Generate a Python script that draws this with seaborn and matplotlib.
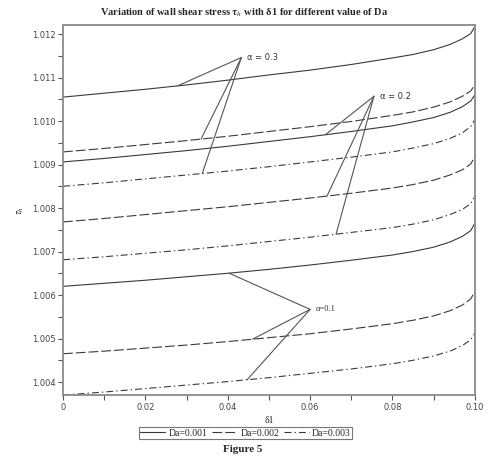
#!/bin/python3

import numpy as np
import pandas as pd
import seaborn as sns
import matplotlib
matplotlib.use('Agg')
import matplotlib.pyplot as plt
from matplotlib.lines import Line2D
from matplotlib.ticker import MultipleLocator, FixedLocator

sns.set_style('ticks')
plt.rcParams['font.family'] = ['DejaVu Sans']
plt.rcParams['mathtext.fontset'] = 'stix'
plt.rcParams['lines.scale_dashes'] = False

# delta1 grid
delta1 = [0, 0.01, 0.02, 0.03, 0.04, 0.05, 0.06, 0.07, 0.08, 0.085, 0.09, 0.094, 0.097, 0.099, 0.1]

# alpha = 0.3
a3_da001 = [1.01055, 1.01064, 1.01073, 1.01083, 1.01094, 1.01106, 1.01117, 1.01130, 1.01145, 1.01153, 1.01164, 1.01176, 1.01189, 1.01201, 1.01217]
a3_da002 = [1.00929, 1.00937, 1.00946, 1.00955, 1.00965, 1.00976, 1.00987, 1.00999, 1.01013, 1.01021, 1.01032, 1.01044, 1.01057, 1.01069, 1.01083]
a3_da003 = [1.00850, 1.00858, 1.00867, 1.00876, 1.00885, 1.00895, 1.00906, 1.00917, 1.00929, 1.00938, 1.00948, 1.00960, 1.00973, 1.00987, 1.01003]
# alpha = 0.2
a2_da001 = [1.00906, 1.00914, 1.00923, 1.00932, 1.00942, 1.00953, 1.00964, 1.00976, 1.00989, 1.00998, 1.01008, 1.01020, 1.01033, 1.01046, 1.01060]
a2_da002 = [1.00768, 1.00776, 1.00785, 1.00794, 1.00803, 1.00813, 1.00823, 1.00834, 1.00846, 1.00854, 1.00864, 1.00876, 1.00888, 1.00901, 1.00918]
a2_da003 = [1.00681, 1.00688, 1.00696, 1.00704, 1.00713, 1.00723, 1.00733, 1.00744, 1.00755, 1.00763, 1.00773, 1.00785, 1.00797, 1.00810, 1.00826]
# alpha = 0.1
a1_da001 = [1.00620, 1.00627, 1.00634, 1.00642, 1.00650, 1.00659, 1.00669, 1.00680, 1.00692, 1.00700, 1.00710, 1.00722, 1.00735, 1.00748, 1.00765]
a1_da002 = [1.00465, 1.00471, 1.00478, 1.00485, 1.00493, 1.00502, 1.00511, 1.00522, 1.00534, 1.00542, 1.00552, 1.00564, 1.00577, 1.00591, 1.00608]
a1_da003 = [1.00370, 1.00377, 1.00385, 1.00393, 1.00401, 1.00410, 1.00420, 1.00430, 1.00442, 1.00450, 1.00460, 1.00471, 1.00484, 1.00497, 1.00512]

da_labels = ['Da=0.001', 'Da=0.002', 'Da=0.003']
alpha_labels = ['α = 0.3', 'α = 0.2', 'α=0.1']
series = {
	'α = 0.3': [a3_da001, a3_da002, a3_da003],
	'α = 0.2': [a2_da001, a2_da002, a2_da003],
	'α=0.1': [a1_da001, a1_da002, a1_da003],
}

# annotation hubs and where the pointer lines hit each Da curve
label_pos = {'α = 0.3': (0.0433, 1.01146), 'α = 0.2': (0.0755, 1.01057), 'α=0.1': (0.0600, 1.00567)}
target_x = {'α = 0.3': [0.0278, 0.0335, 0.0338], 'α = 0.2': [0.0637, 0.0641, 0.0663], 'α=0.1': [0.0403, 0.0460, 0.0447]}

rows = []
for a in alpha_labels:
	for da, vals in zip(da_labels, series[a]):
		for x, y in zip(delta1, vals):
			rows.append({'delta1': x, 'tau': y, 'Da': da, 'alpha': a})
df = pd.DataFrame(rows)

dash_map = {'Da=0.001': '', 'Da=0.002': (7, 2.2), 'Da=0.003': (5, 2.2, 1, 2.2)}
line_col = '#3a3a3a'

fig = plt.figure(figsize=(4.89, 4.61), dpi=100)
ax = fig.add_axes([0.129, 0.143, 0.842, 0.803])

sns.lineplot(data=df, x='delta1', y='tau', style='Da', units='alpha', estimator=None,
	dashes=dash_map, color=line_col, linewidth=0.8, legend=False, ax=ax)

# pointer lines for the alpha labels
for a in alpha_labels:
	hx, hy = label_pos[a]
	for tx, vals in zip(target_x[a], series[a]):
		ty = np.interp(tx, delta1, vals)
		ax.annotate('', xy=(tx, ty), xytext=(hx, hy),
			arrowprops=dict(arrowstyle='-', color='#555555', lw=0.8, shrinkA=0, shrinkB=0))
	fam = 'Liberation Serif' if a == 'α=0.1' else 'DejaVu Sans'
	ax.text(hx + 0.0014, hy, a, fontsize=6, va='center', ha='left', color='#333333', family=fam)

ax.set_xlim(0, 0.1)
ax.set_ylim(1.0037, 1.01221)
ax.xaxis.set_major_locator(FixedLocator([0, 0.02, 0.04, 0.06, 0.08, 0.1]))
ax.set_xticklabels(['0', '0.02', '0.04', '0.06', '0.08', '0.10'])
ax.xaxis.set_minor_locator(MultipleLocator(0.01))
ax.yaxis.set_major_locator(FixedLocator([1.004, 1.005, 1.006, 1.007, 1.008, 1.009, 1.010, 1.011, 1.012]))
ax.set_yticklabels(['1.004', '1.005', '1.006', '1.007', '1.008', '1.009', '1.010', '1.011', '1.012'])
ax.yaxis.set_minor_locator(MultipleLocator(0.0005))
ax.tick_params(axis='both', which='both', direction='out', length=3.5, width=0.8, color='#555555',
	labelsize=6, labelcolor='#444444', pad=2)
for s in ax.spines.values():
	s.set_color('#8a8a8a')
	s.set_linewidth(1.3)

ax.set_xlabel('δ1', fontsize=7, family='Liberation Serif', labelpad=3)
ax.set_ylabel(r'$\tau_h$', fontsize=7, labelpad=4)

fig.text(0.5, 0.972, r'Variation of wall shear stress $\mathbf{\tau}_{\mathit{h}}$ with δ1 for different value of Da',
	ha='center', va='center', fontsize=7.5, fontweight='bold', family='Liberation Serif')

handles = [Line2D([], [], color=line_col, lw=0.8, dashes=dash_map[d] if dash_map[d] else (None, None)) for d in da_labels]
handles[0] = Line2D([], [], color=line_col, lw=0.8, linestyle='-')
leg = fig.legend(handles, da_labels, loc='center', bbox_to_anchor=(245.5 / 489, 1 - 433 / 461), ncol=3,
	frameon=True, fancybox=False, handlelength=2.6, handletextpad=0.3, columnspacing=0.5,
	borderpad=0.15, prop={'family': 'Liberation Serif', 'size': 7})
leg.get_frame().set_edgecolor('#555555')
leg.get_frame().set_linewidth(0.8)

fig.text(0.497, 0.026, 'Figure 5', ha='center', va='center', fontsize=8, fontweight='bold', family='Liberation Serif')

fig.savefig('out.png', dpi=100)
